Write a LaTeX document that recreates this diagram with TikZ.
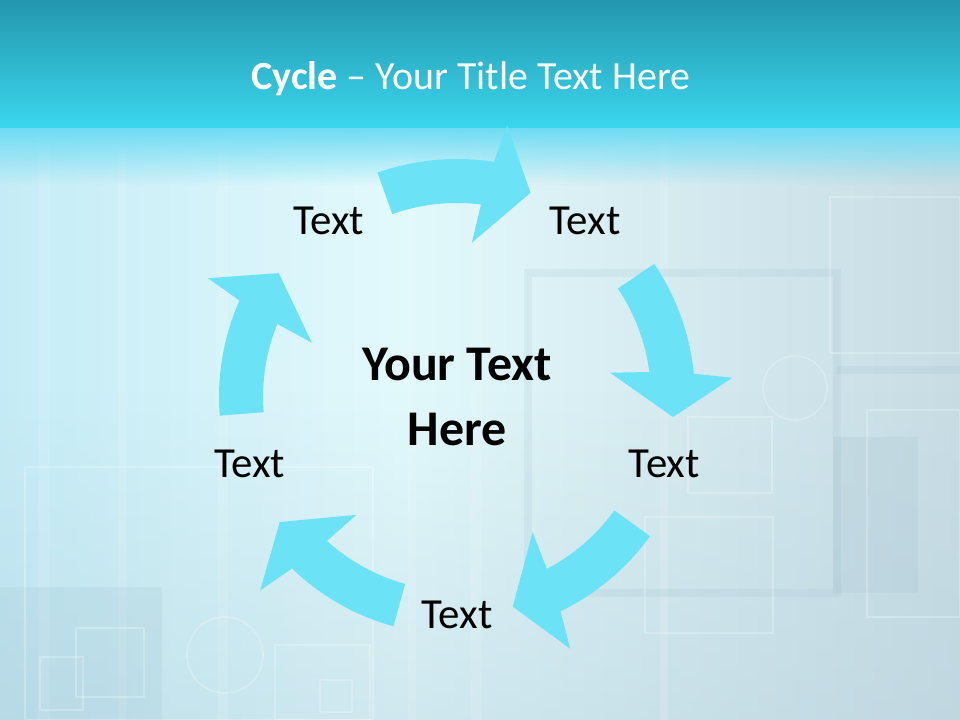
\documentclass[tikz,border=0pt]{standalone}
\usepackage{fontspec}
\setmainfont{Carlito}
\usepackage{xcolor}
\definecolor{bartop}{RGB}{36,151,173}
\definecolor{barbottom}{RGB}{58,214,238}
\definecolor{bgleft}{RGB}{197,236,246}
\definecolor{bgmid}{RGB}{226,249,252}
\definecolor{bgright}{RGB}{200,220,228}
\definecolor{bgbottom}{RGB}{180,208,220}
\definecolor{glow}{RGB}{110,220,243}
\definecolor{ghostdark}{RGB}{140,176,192}
\definecolor{cyclefill}{RGB}{108,226,246}
\usetikzlibrary{fadings}

\begin{document}
\begin{tikzpicture}[x=0.025cm,y=0.025cm,
    banner/.style={text=white,font=\fontsize{28.4}{32}\selectfont},
    hub/.style={align=center,font=\fontsize{35.5}{46}\selectfont\bfseries},
    lbl/.style={font=\fontsize{30.5}{34}\selectfont},
    ghost/.style={draw=white,opacity=0.25,line width=1.2},
    shadowline/.style={draw=ghostdark,opacity=0.12,line width=5},
    patch/.style={fill=ghostdark,opacity=0.13},
    streak/.style={fill=white,opacity=0.12},
    cyclearrow/.pic={
      \fill[cyclefill] (109.5:194) arc[start angle=109.5,end angle=82.9,radius=194]
        -- (84.5:155) -- (70.2:217) -- (79.5:276) -- (81.1:238)
        arc[start angle=81.1,end angle=109.5,radius=238] -- cycle;
    }
  ]
  \useasboundingbox (0,0) rectangle (960,720);
  \shade[left color=bgleft,right color=bgmid] (0,0) rectangle (400,592);
  \shade[left color=bgmid,right color=bgright] (400,0) rectangle (960,592);
  \fill[bgbottom,path fading=north,opacity=0.4] (0,0) rectangle (960,330);
  \fill[streak] (38,0) rectangle (50,592);
  \fill[streak] (118,0) rectangle (126,592);
  \fill[streak] (218,0) rectangle (228,592);
  \fill[streak] (408,0) rectangle (416,592);
  \fill[streak] (470,0) rectangle (482,592);
  \fill[streak] (660,0) rectangle (668,592);
  \fill[patch] (0,0) rectangle (162,133);
  \fill[patch] (833,127) rectangle (918,283);
  \draw[shadowline] (528,127) rectangle (837,447);
  \draw[shadowline] (837,350) -- (960,350);
  \draw[ghost] (25,0) rectangle (373,253);
  \draw[ghost] (76,23) rectangle (144,92);
  \draw[ghost] (40,10) rectangle (83,63);
  \draw[ghost] (275,0) rectangle (370,75);
  \draw[ghost] (320,8) rectangle (352,40);
  \draw[ghost] (225,65) circle[radius=38];
  \draw[ghost] (830,367) rectangle (960,523);
  \draw[ghost] (688,227) rectangle (772,303);
  \draw[ghost] (645,87) rectangle (773,203);
  \draw[ghost] (867,103) rectangle (960,310);
  \draw[ghost] (795,332) circle[radius=32];
  \fill[glow,path fading=south] (0,535) rectangle (960,592);
  \shade[top color=bartop,bottom color=barbottom] (0,592) rectangle (960,720);

  \node[banner] (title) at (471,641) {\textbf{Cycle} – Your Title Text Here};

  \node[hub] (c) at (457,323) {Your Text\\Here};
  \pic[rotate=0] at (c) {cyclearrow};
  \pic[rotate=-75.5] at (c) {cyclearrow};
  \pic[rotate=-145.3] at (c) {cyclearrow};
  \pic[rotate=-215] at (c) {cyclearrow};
  \pic[rotate=75] at (c) {cyclearrow};
  \node[lbl,shift={(126:218)}] (tl) at (c) {Text};
  \node[lbl,shift={(54:218)}] (tr) at (c) {Text};
  \node[lbl,shift={(-18:218)}] (rt) at (c) {Text};
  \node[lbl,shift={(-90:218)}] (bt) at (c) {Text};
  \node[lbl,shift={(198:218)}] (lt) at (c) {Text};
\end{tikzpicture}
\end{document}
